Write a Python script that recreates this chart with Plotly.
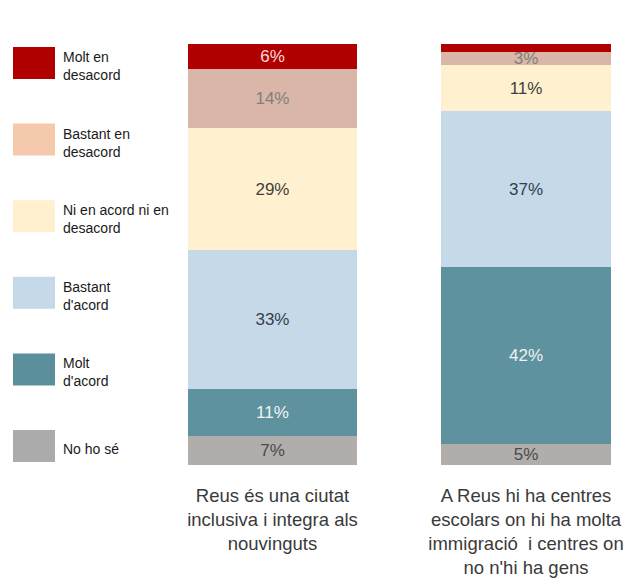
import plotly.graph_objects as go

categories = [
    "Reus és una ciutat<br>inclusiva i integra als<br>nouvinguts",
    "A Reus hi ha centres<br>escolars on hi ha molta<br>immigració  i centres on<br>no n'hi ha gens",
]
# stacked bottom -> top
series_names = ["No ho sé", "Molt d'acord", "Bastant d'acord",
                "Ni en acord ni en desacord", "Bastant en desacord", "Molt en desacord"]
legend_labels = ["No ho sé", "Molt<br>d'acord", "Bastant<br>d'acord",
                 "Ni en acord ni en<br>desacord", "Bastant en<br>desacord", "Molt en<br>desacord"]
no_ho_se = [7, 5]
molt_acord = [11, 42]
bastant_acord = [33, 37]
ni_ni = [29, 11]
bastant_desacord = [14, 3]
molt_desacord = [6, 2]
values = [no_ho_se, molt_acord, bastant_acord, ni_ni, bastant_desacord, molt_desacord]
labels = [["7%", "5%"], ["11%", "42%"], ["33%", "37%"], ["29%", "11%"], ["14%", "3%"], ["6%", ""]]

colors = ["#B0ADAB", "#5E929F", "#C5D9E9", "#FFF1CF", "#D9B6A7", "#B00000"]
legend_colors = ["#ABABAB", "#5B8F9C", "#C5D9E9", "#FFF1CF", "#F5C9AB", "#B00000"]
text_colors = ["#4A4A4A", "#F2F2F2", "#333F50", "#3F3F3F", "#7F7F7F", "#FFD9D9"]

FONT = "Arial, Liberation Sans, sans-serif"

fig = go.Figure()
for name, vals, lab, col, tcol in zip(series_names, values, labels, colors, text_colors):
    fig.add_trace(go.Bar(
        x=[0, 1], y=vals, name=name, marker=dict(color=col, line=dict(width=0)),
        text=lab, textposition="inside", insidetextanchor="middle",
        textfont=dict(color=tcol, size=17, family=FONT),
        textangle=0, constraintext="none", width=0.667, showlegend=False,
        hoverinfo="skip",
    ))

# page pixel -> paper coordinate helpers (plot area: x 150..632, y 44..465 in page px)
def px_x(p):
    return (p - 150) / 482.0

def px_y(p):
    return (465 - p) / 421.0

# custom legend (large swatches), top to bottom
n = len(series_names)
for i in range(n):
    k = n - 1 - i  # top item first
    yc = 63 + i * 76.6
    fig.add_shape(type="rect", xref="paper", yref="paper",
                  x0=px_x(13), x1=px_x(55), y0=px_y(yc + 16), y1=px_y(yc - 16),
                  fillcolor=legend_colors[k], line=dict(width=0))
    fig.add_annotation(xref="paper", yref="paper", x=px_x(61), y=px_y(yc + 3),
                       text=legend_labels[k], showarrow=False, xanchor="left",
                       yanchor="middle", align="left",
                       font=dict(size=14, color="#1a1a1a", family=FONT))

fig.update_layout(
    width=624, height=571,
    margin=dict(l=142, r=0, t=36, b=114),
    barmode="stack",
    plot_bgcolor="white", paper_bgcolor="white",
    xaxis=dict(range=[-0.483, 1.418], tickvals=[0, 1], ticktext=categories,
               showgrid=False, zeroline=False, showline=False,
               ticks="outside", ticklen=14, tickcolor="rgba(0,0,0,0)",
               tickfont=dict(size=18.5, color="#3a3a3a", family=FONT),
               fixedrange=True),
    yaxis=dict(range=[0, 100], visible=False, fixedrange=True),
)

fig.write_html("out.html")
